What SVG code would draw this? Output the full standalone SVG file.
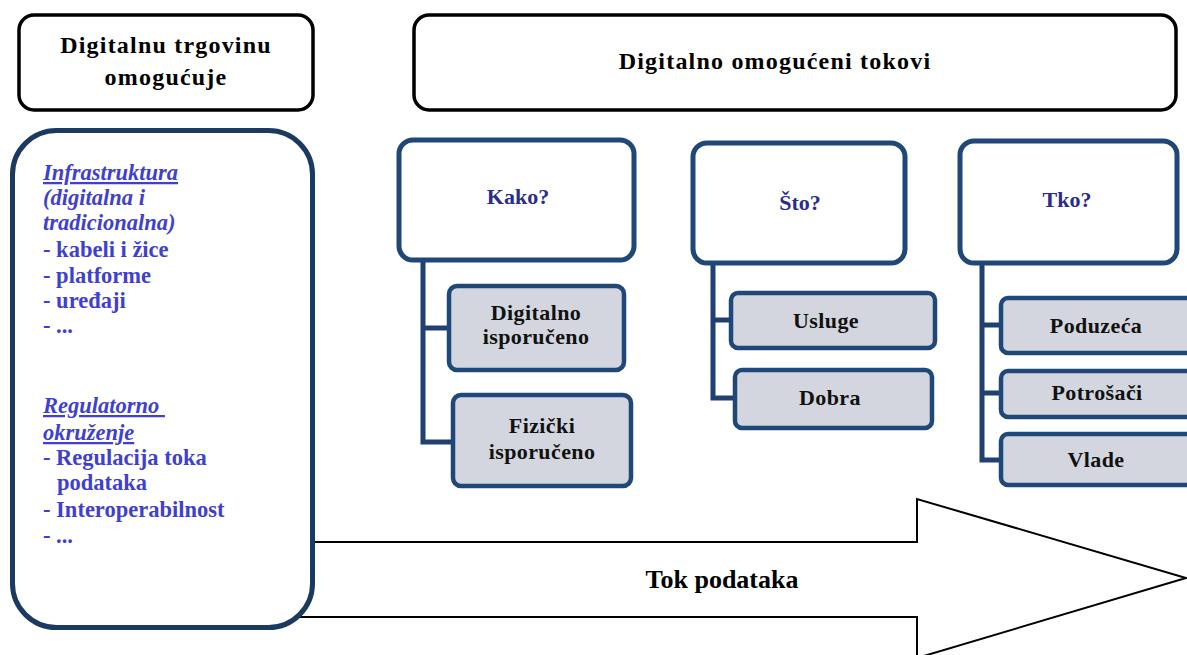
<svg xmlns="http://www.w3.org/2000/svg" width="1187" height="655" viewBox="0 0 1187 655">
<style>
.bg{fill:#ffffff}
.top{fill:#ffffff;stroke:#000000;stroke-width:3.5}
.head{fill:#ffffff;stroke:#1f4878;stroke-width:5}
.sub{fill:#d3d6de;stroke:#1f4878;stroke-width:4.5}
.conn{fill:none;stroke:#1f4070;stroke-width:5}
.arrow{fill:#ffffff;stroke:#000000;stroke-width:2}
text{font-family:'Liberation Serif','Tinos','DejaVu Serif',serif;font-weight:bold}
.tt{font-size:24px;fill:#000;letter-spacing:1.2px}
.hq{font-size:22px;fill:#2c2c8c}
.st{font-size:22px;fill:#111;letter-spacing:0.4px}
.lt{font-size:22.5px;fill:#3f3fd2}
.it{font-style:italic;text-decoration:underline}
.itn{font-style:italic}
</style>
<rect class="bg" x="0" y="0" width="1187" height="655"/>
<g id="flow-arrow">
<polygon class="arrow" points="300,542 917,542 917,499 1186,578 917,658 917,617 300,617"/>
<text x="722" y="588" text-anchor="middle" font-size="26" fill="#000">Tok podataka</text>
</g>
<g id="enables-title">
<rect class="top" x="19" y="15" width="294" height="95" rx="15"/>
<text class="tt" x="166" y="53" text-anchor="middle">Digitalnu trgovinu</text>
<text class="tt" x="166" y="85" text-anchor="middle">omogućuje</text>
</g>
<g id="flows-title">
<rect class="top" x="414" y="15" width="762" height="95" rx="15"/>
<text class="tt" x="775" y="69" text-anchor="middle">Digitalno omogućeni tokovi</text>
</g>
<g id="enablers">
<rect x="12.5" y="130.5" width="300" height="497" rx="44" fill="#ffffff" stroke="#1b3a62" stroke-width="5"/>
<text class="lt" x="43">
<tspan x="43" y="180" class="it">Infrastruktura</tspan>
<tspan x="43" y="205" class="itn">(digitalna i</tspan>
<tspan x="43" y="230" class="itn">tradicionalna)</tspan>
<tspan x="43" y="257">- kabeli i žice</tspan>
<tspan x="43" y="283">- platforme</tspan>
<tspan x="43" y="308">- uređaji</tspan>
<tspan x="43" y="333">- ...</tspan>
<tspan x="43" y="413" class="it">Regulatorno </tspan>
<tspan x="43" y="440" class="it">okruženje</tspan>
<tspan x="43" y="465">- Regulacija toka</tspan>
<tspan x="57" y="490">podataka</tspan>
<tspan x="43" y="517">- Interoperabilnost</tspan>
<tspan x="43" y="543">- ...</tspan>
</text>
</g>
<g id="connectors">
<path class="conn" d="M423,260 V442 H452 M423,328 H448"/>
<path class="conn" d="M713,263 V398 H734 M713,320 H730"/>
<path class="conn" d="M982,263 V460 H1000 M982,325 H1000 M982,393 H1000"/>
</g>
<g id="kako">
<rect class="head" x="399" y="140" width="235" height="120" rx="14"/>
<text class="hq" x="518" y="204" text-anchor="middle">Kako?</text>
</g>
<g id="digitalno-isporuceno">
<rect class="sub" x="449" y="286" width="175" height="84" rx="8"/>
<text class="st" x="536" y="320" text-anchor="middle">Digitalno</text>
<text class="st" x="536" y="344" text-anchor="middle">isporučeno</text>
</g>
<g id="fizicki-isporuceno">
<rect class="sub" x="453" y="395" width="178" height="91" rx="8"/>
<text class="st" x="542" y="433" text-anchor="middle">Fizički</text>
<text class="st" x="542" y="459" text-anchor="middle">isporučeno</text>
</g>
<g id="sto">
<rect class="head" x="693" y="143" width="212" height="120" rx="14"/>
<text class="hq" x="800" y="210" text-anchor="middle">Što?</text>
</g>
<g id="usluge">
<rect class="sub" x="731" y="293" width="204" height="55" rx="7"/>
<text class="st" x="826" y="328" text-anchor="middle">Usluge</text>
</g>
<g id="dobra">
<rect class="sub" x="735" y="370" width="197" height="58" rx="7"/>
<text class="st" x="830" y="405" text-anchor="middle">Dobra</text>
</g>
<g id="tko">
<rect class="head" x="960" y="141" width="217" height="122" rx="14"/>
<text class="hq" x="1067" y="207" text-anchor="middle">Tko?</text>
</g>
<g id="poduzeca">
<rect class="sub" x="1001" y="298" width="200" height="55" rx="7"/>
<text class="st" x="1096" y="333" text-anchor="middle">Poduzeća</text>
</g>
<g id="potrosaci">
<rect class="sub" x="1001" y="371" width="200" height="46" rx="7"/>
<text class="st" x="1097" y="400" text-anchor="middle">Potrošači</text>
</g>
<g id="vlade">
<rect class="sub" x="1001" y="434" width="200" height="51" rx="7"/>
<text class="st" x="1096" y="467" text-anchor="middle">Vlade</text>
</g>
</svg>
